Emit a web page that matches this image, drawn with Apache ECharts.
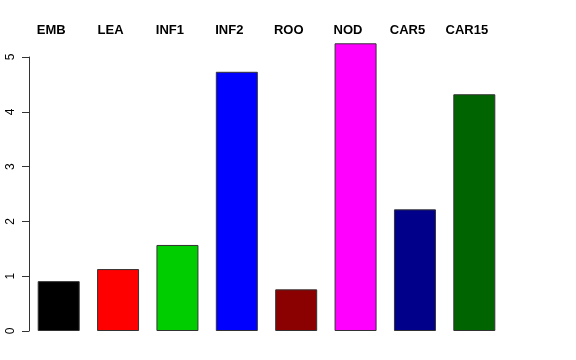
<!DOCTYPE html>
<html>
<head>
<meta charset="utf-8">
<script src="https://cdn.jsdelivr.net/npm/echarts@6/dist/echarts.min.js"></script>
<style>html,body{margin:0;padding:0;background:#fff}#c{width:576px;height:360px}</style>
</head>
<body>
<div id="c"></div>
<script>
const categories = ['EMB', 'LEA', 'INF1', 'INF2', 'ROO', 'NOD', 'CAR5', 'CAR15'];
const values = [0.91, 1.13, 1.57, 4.73, 0.76, 5.25, 2.22, 4.32];
const barColors = ['#000000', '#FF0000', '#00CD00', '#0000FF', '#8B0000', '#FF00FF', '#00008B', '#006400'];
const yTicks = [0, 1, 2, 3, 4, 5];

const chart = echarts.init(document.getElementById('c'), null, {renderer: 'canvas'});
chart.setOption({
  animation: false,
  backgroundColor: '#ffffff',
  grid: {left: 29, right: 72, top: 57, bottom: 29, containLabel: false},
  xAxis: {
    type: 'category',
    position: 'top',
    data: categories,
    axisLine: {show: false},
    axisTick: {show: false},
    splitLine: {show: false},
    axisLabel: {
      margin: 20,
      interval: 0,
      formatter: v => '{a|' + v + '}',
      rich: {
        a: {
          fontFamily: 'Liberation Sans, Arial, sans-serif',
          fontWeight: 'bold',
          fontSize: 13,
          color: '#000',
          padding: [0, 15, 0, 0]
        }
      }
    }
  },
  yAxis: {
    type: 'value',
    min: yTicks[0],
    max: yTicks[yTicks.length - 1],
    interval: 1,
    axisLine: {show: true, lineStyle: {color: '#333', width: 1}},
    axisTick: {show: true, length: 7, lineStyle: {color: '#333', width: 1}},
    splitLine: {show: false},
    axisLabel: {
      rotate: 90,
      margin: 12,
      fontFamily: 'Liberation Sans, Arial, sans-serif',
      fontSize: 12,
      color: '#000'
    }
  },
  series: [{
    type: 'bar',
    clip: false,
    barWidth: 42,
    data: values.map((v, i) => ({value: v, itemStyle: {color: barColors[i]}})),
    itemStyle: {borderColor: '#333', borderWidth: 1}
  }]
});
</script>
</body>
</html>
